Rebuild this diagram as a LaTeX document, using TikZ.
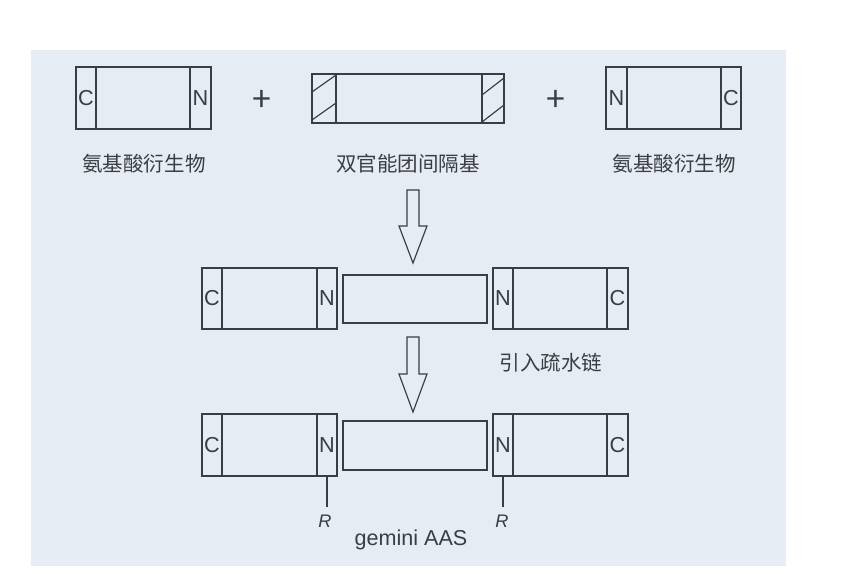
\documentclass[tikz,border=0pt]{standalone}
\usepackage{fontspec}
\setmainfont{Liberation Sans}
\newfontfamily\cjk{Noto Sans CJK SC}
\usepackage{tikz}
\definecolor{ink}{HTML}{3A3D42}
\definecolor{panel}{HTML}{E6ECF4}

\begin{document}
\begin{tikzpicture}[x=.03cm, y=-.03cm, line width=1pt, color=ink,
  letter/.style={inner sep=0pt, font=\fontsize{18.5}{18.5}\selectfont},
  plus/.style={inner sep=0pt, font=\cjk\fontsize{29}{29}\selectfont},
  caption/.style={inner sep=0pt, font=\cjk\fontsize{17.5}{17.5}\selectfont},
  rlab/.style={inner sep=0pt, font=\itshape\fontsize{15.5}{15.5}\selectfont}]
\useasboundingbox (0,0) rectangle (859,576);
\fill[panel] (31,50) rectangle (786,566);
\draw (76,67) rectangle (211,129);
\draw (96,67) -- (96,129);
\draw (190,67) -- (190,129);
\node[letter] (c1) at (86,98) {C};
\node[letter] (n1) at (200.5,98) {N};
\node[plus] (p1) at (262,101) {+};
\draw (312,74) rectangle (504,123);
\draw (336,74) -- (336,123);
\draw (482,74) -- (482,123);
\draw (312,92) -- (336,75);
\draw (312,120) -- (336,103);
\draw (482,95) -- (504,78);
\draw (482,122) -- (504,105);
\node[plus] (p2) at (556,101) {+};
\draw (606,67) rectangle (741,129);
\draw (627,67) -- (627,129);
\draw (721,67) -- (721,129);
\node[letter] (n2) at (616.5,98) {N};
\node[letter] (c2) at (731,98) {C};
\node[caption] (amino1) at (144,164) {氨基酸衍生物};
\node[caption] (spacer) at (408,164) {双官能团间隔基};
\node[caption] (amino2) at (674,164) {氨基酸衍生物};
\draw (407,190) -- (419,190) -- (419,226) -- (427,226) -- (413,263) -- (399,226) -- (407,226) -- cycle;
\draw (202,268) rectangle (337,329);
\draw (222,268) -- (222,329);
\draw (317,268) -- (317,329);
\node[letter] (c3) at (212,298.5) {C};
\node[letter] (n3) at (327,298.5) {N};
\draw (343,275) rectangle (487,323);
\draw (493,268) rectangle (628,329);
\draw (513,268) -- (513,329);
\draw (607,268) -- (607,329);
\node[letter] (n4) at (503,298.5) {N};
\node[letter] (c4) at (617.5,298.5) {C};
\node[caption] (chain) at (551,363) {引入疏水链};
\draw (407,337) -- (419,337) -- (419,374) -- (427,374) -- (413,412) -- (399,374) -- (407,374) -- cycle;
\draw (202,414) rectangle (337,476);
\draw (222,414) -- (222,476);
\draw (317,414) -- (317,476);
\node[letter] (c5) at (212,445) {C};
\node[letter] (n5) at (327,445) {N};
\draw (343,421) rectangle (487,470);
\draw (493,414) rectangle (628,476);
\draw (513,414) -- (513,476);
\draw (607,414) -- (607,476);
\node[letter] (n6) at (503,445) {N};
\node[letter] (c6) at (617.5,445) {C};
\coordinate (t5) at (327,476);
\coordinate (t6) at (503,476);
\node[rlab, anchor=north] (r5) at (325,514) {R};
\node[rlab, anchor=north] (r6) at (502,514) {R};
\draw (t5) -- (t5 |- r5.north) [shorten >=6pt];
\draw (t6) -- (t6 |- r6.north) [shorten >=6pt];
\node[inner sep=0pt, anchor=base, font=\fontsize{18.4}{18.4}\selectfont] (aas) at (411,545) {gemini AAS};
\end{tikzpicture}
\end{document}
